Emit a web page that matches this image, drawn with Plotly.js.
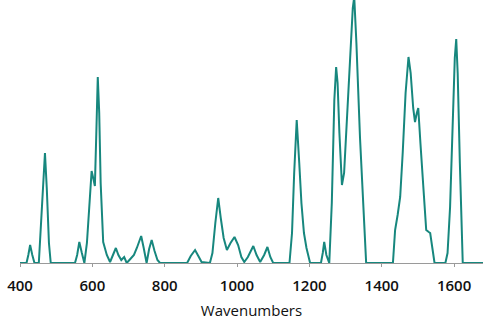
<!DOCTYPE html>
<html>
<head>
<meta charset="utf-8">
<script src="https://cdn.plot.ly/plotly-3.0.1.min.js"></script>
<style>html,body{margin:0;padding:0;background:#fff;}#chart{width:483px;height:330px;}</style>
</head>
<body>
<div id="chart"></div>
<script>
// Wavenumbers (cm^-1)
const wavenumbers = [
  400,418,423,428,434,440,452,458,464,469,474,480,485,
  552,558,564,571,578,585,592,598,603,607,611,615,619,623,630,640,649,657,665,672,680,688,695,
  705,715,723,735,742,750,757,764,772,780,787,
  862,872,884,893,902,925,932,940,948,955,963,972,982,993,1003,1012,1020,1030,1045,1054,1064,1075,1084,1092,1100,
  1145,1152,1158,1165,1172,1178,1185,1192,1202,
  1232,1237,1241,1247,1255,1262,1269,1274,1278,1283,1290,1296,1303,1312,1320,1324,1330,1340,1350,1357,
  1431,1437,1444,1451,1458,1466,1474,1480,1487,1492,1497,1501,1507,1515,1523,1530,1534,1540,1546,
  1576,1582,1589,1596,1602,1606,1610,1616,1624,1680
];
// Intensity (arbitrary units)
const intensity = [
  0,0,8,18,8,0,0,40,90,110,75,20,0,
  0,8,21,10,0,20,60,92,84,77,130,186,150,80,21,8,1,8,15,8,3,6,0,
  4,8,15,27,15,0,14,23,12,3,0,
  0,7,13,7,1,0,10,40,65,45,25,13,20,26,18,6,1,6,17,8,1,8,16,6,0,
  0,30,90,143,100,60,30,15,0,
  0,10,21,8,0,60,163,196,180,130,78,90,140,210,255,266,220,125,50,0,
  0,33,48,66,110,170,206,190,155,141,150,155,120,70,33,31,30,15,0,
  0,10,56,130,205,224,190,100,0,0
];
const xTicks = [400,600,800,1000,1200,1400,1600];
const xTitle = "Wavenumbers";

Plotly.newPlot('chart', [{
  x: wavenumbers, y: intensity, type: 'scatter', mode: 'lines',
  line: {color: '#17877e', width: 2}, hoverinfo: 'skip'
}], {
  width: 483, height: 330,
  margin: {l: 20, r: 0, t: 0, b: 67},
  paper_bgcolor: '#fff', plot_bgcolor: '#fff',
  showlegend: false,
  font: {family: 'Open Sans, sans-serif', color: '#111', size: 15},
  xaxis: {
    range: [400, 1680], tickvals: xTicks, ticktext: xTicks.map(String),
    showgrid: false, zeroline: false, showline: true, linecolor: '#9a9a9a', linewidth: 1,
    ticks: 'outside', ticklen: 3, tickcolor: '#9a9a9a',
    tickfont: {size: 15, color: '#111', weight: 600},
    ticklabelstandoff: 6,
    automargin: false,
    title: {text: xTitle, font: {size: 15, color: '#111', weight: 500}, standoff: 11}
  },
  yaxis: {range: [0, 263], visible: false, showgrid: false, zeroline: false, fixedrange: true}
}, {staticPlot: true, displayModeBar: false});
</script>
</body>
</html>
